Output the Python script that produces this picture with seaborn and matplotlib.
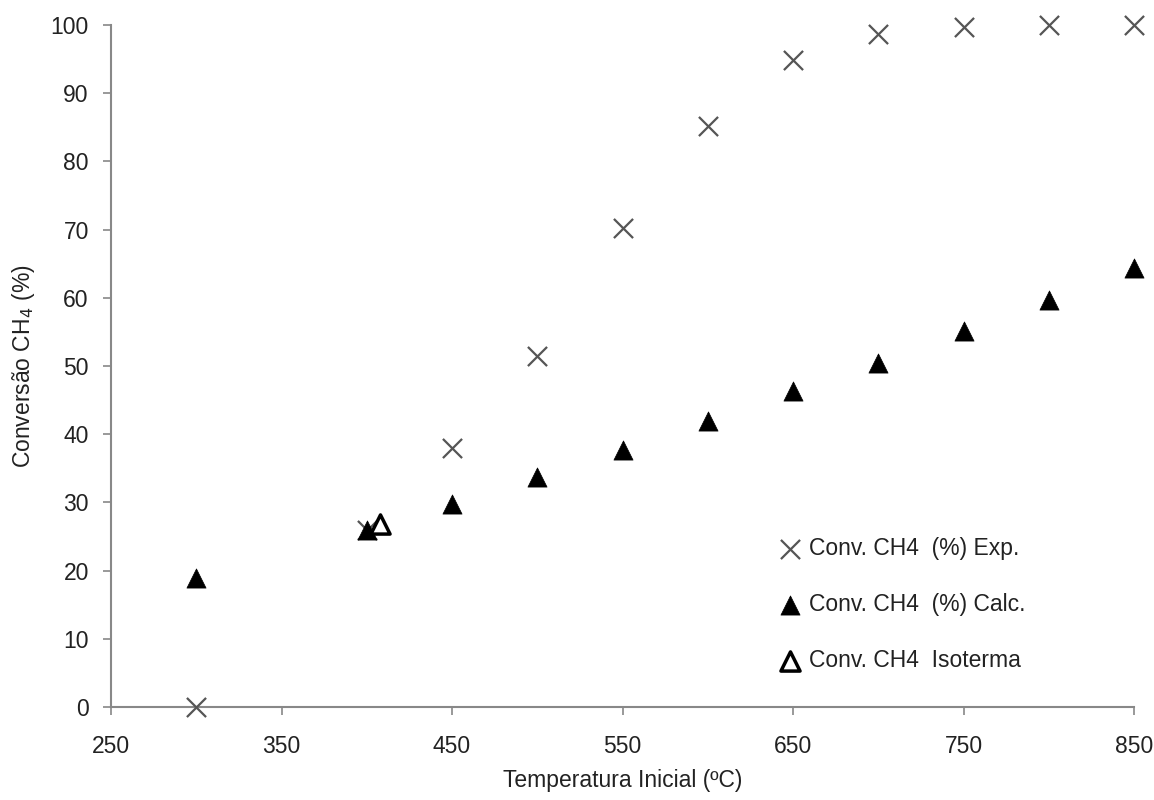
import matplotlib
matplotlib.use("Agg")
import matplotlib.pyplot as plt
import seaborn as sns
import pandas as pd

temps = [300, 400, 450, 500, 550, 600, 650, 700, 750, 800, 850]
conv_exp = [0, 26, 38, 51.5, 70.2, 85.1, 94.8, 98.6, 99.7, 100, 100]
conv_calc = [19.0, 26.0, 29.8, 33.8, 37.7, 42.0, 46.3, 50.5, 55.1, 59.7, 64.3]
iso_temp = [408]
iso_conv = [26.8]

sns.set_theme(style="white")
plt.rcParams['font.family'] = ['Liberation Sans', 'DejaVu Sans']

FS = 16.5
fig = plt.figure(figsize=(11.54, 8), dpi=100)
ax = fig.add_axes([0.0962, 0.116, 0.8865, 0.853])

df_exp = pd.DataFrame({"T": temps, "C": conv_exp})
df_calc = pd.DataFrame({"T": temps, "C": conv_calc})
df_iso = pd.DataFrame({"T": iso_temp, "C": iso_conv})

sns.scatterplot(data=df_exp, x="T", y="C", marker="x", s=190, color="#555555",
                linewidth=1.6, ax=ax, label="Conv. CH4  (%) Exp.", zorder=3, clip_on=False)
sns.scatterplot(data=df_calc, x="T", y="C", marker="^", s=190, color="black",
                edgecolor="black", linewidth=0.5, ax=ax, label="Conv. CH4  (%) Calc.", zorder=4,
                clip_on=False)
sns.scatterplot(data=df_iso, x="T", y="C", marker="^", s=190, facecolor="white",
                edgecolor="black", linewidth=2.5, ax=ax, label="Conv. CH4  Isoterma", zorder=5,
                clip_on=False)

ax.set_xlim(250, 850)
ax.set_ylim(0, 100)
ax.set_xticks(range(250, 851, 100))
ax.set_yticks(range(0, 101, 10))
ax.tick_params(axis="both", which="both", direction="out", length=6, width=1.2,
               color="#888888", labelsize=FS, labelcolor="#222222", bottom=True, left=True)
ax.tick_params(axis="x", pad=14)
ax.tick_params(axis="y", pad=10)
for side in ["top", "right"]:
    ax.spines[side].set_visible(False)
for side in ["left", "bottom"]:
    ax.spines[side].set_color("#888888")
    ax.spines[side].set_linewidth(1.5)

ax.set_xlabel("Temperatura Inicial (ºC)", fontsize=FS, color="#222222", labelpad=8)
ax.set_ylabel("Conversão CH$_4$ (%)", fontsize=FS, color="#222222", labelpad=10)

leg = ax.legend(loc="upper left", bbox_to_anchor=(0.675, 0.329), bbox_transform=fig.transFigure,
                frameon=False, fontsize=FS, handletextpad=0.3, labelspacing=1.45,
                handlelength=1.0, borderaxespad=0, borderpad=0)
for t in leg.get_texts():
    t.set_color("#222222")

fig.savefig("out.png", dpi=100, facecolor="white")
